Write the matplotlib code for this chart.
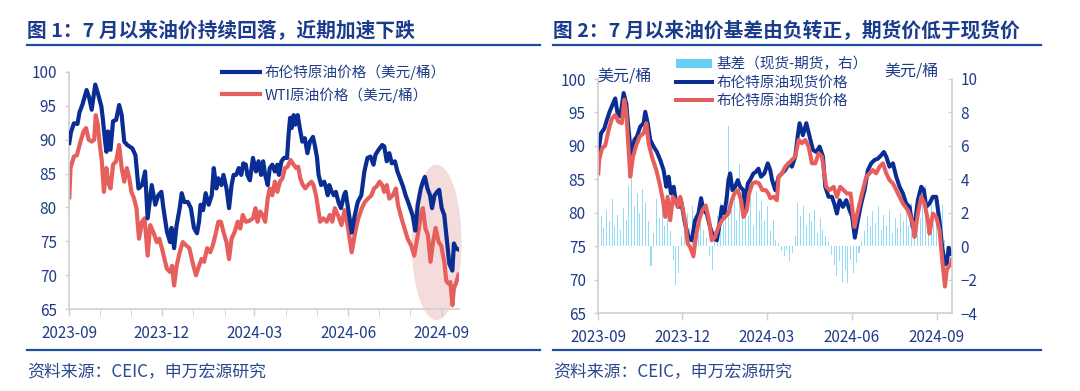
import matplotlib
matplotlib.use("Agg")
import matplotlib.pyplot as plt
import matplotlib.dates as mdates
from matplotlib.patches import Ellipse, Patch
from matplotlib.lines import Line2D
import pandas as pd

plt.rcParams["font.family"] = ["Noto Sans CJK SC", "DejaVu Sans"]

START = pd.Timestamp("2023-09-01")

# ---- 图1: 布伦特 / WTI（美元/桶），横轴为距 2023-09-01 的天数 ----
brent_day = [0, 1.5, 4.5, 8, 10, 13, 17, 19.5, 22, 25.5, 28.5, 31.5, 33, 35, 36.5, 38, 40.5, 43, 46, 49,
             51.5, 54, 57, 62, 65, 68, 71.5, 74.5, 77, 81, 84.5, 87.5, 90.5, 92.5, 96, 99, 100.5, 103, 105.5,
             108.5, 110.5, 113, 116.5, 119.5, 122.5, 125.5, 127.5, 129, 131.5, 134, 137, 140, 142, 144.5,
             146.5, 149.5, 151.5, 154.5, 157, 159.5, 161.5, 164, 166.5, 169, 171, 173.5, 175, 177.5, 180.5,
             183.5, 186, 188.5, 190.5, 192.5, 195, 197, 199.5, 202, 204.5, 206, 208.5, 211, 214, 215.5, 217,
             218.5, 220.5, 222, 224.5, 226.5, 229, 231.5, 234, 236.5, 239.5, 241.5, 243.5, 245, 247.5, 250.5,
             252.5, 254, 255.5, 258, 260, 262, 264.5, 267, 270, 271.5, 274, 277.5, 280.5, 283.5, 287, 290,
             293, 296, 299, 301, 304, 307.5, 309.5, 312, 314.5, 317, 320, 322.5, 325, 328, 330.5, 333, 335,
             337.5, 340, 342.5, 345.5, 347.5, 349.5, 352, 354.5, 356.5, 359, 361.5, 363.5, 366, 368.5, 371,
             373.5, 376.5, 378, 380, 382.5]
brent = [89.5, 91.0, 92.4, 92.3, 94.0, 95.2, 97.3, 96.2, 94.4, 98.1, 96.6, 94.9, 93.0, 90.0, 88.2, 91.2,
         88.5, 92.7, 92.9, 95.1, 93.6, 89.7, 89.2, 88.7, 87.7, 82.8, 83.3, 85.3, 78.4, 83.3, 80.4, 81.8, 82.3,
         79.9, 76.4, 74.9, 77.0, 74.0, 77.4, 79.9, 82.1, 80.8, 80.8, 79.9, 77.0, 76.2, 77.9, 80.4, 79.6, 82.1,
         80.4, 81.8, 85.8, 82.8, 84.3, 83.3, 84.8, 82.8, 79.9, 83.3, 84.8, 84.8, 85.8, 84.8, 86.5, 86.3, 84.8,
         84.0, 87.3, 85.3, 86.8, 84.8, 86.8, 84.8, 83.3, 85.8, 86.3, 85.3, 86.3, 84.8, 86.8, 87.3, 87.3, 90.7,
         93.2, 91.7, 93.6, 92.2, 93.6, 91.7, 89.7, 90.2, 88.0, 89.7, 90.4, 89.0, 87.3, 84.8, 83.3, 83.8, 82.8,
         81.8, 83.3, 82.3, 81.8, 82.3, 80.8, 79.9, 81.8, 82.3, 79.9, 76.3, 78.8, 80.8, 81.8, 85.3, 87.3, 87.5,
         86.3, 87.8, 88.5, 89.2, 89.0, 86.8, 88.0, 86.5, 86.8, 85.3, 84.3, 83.1, 81.8, 80.8, 79.9, 78.8, 76.6,
         80.4, 82.8, 83.8, 84.5, 82.8, 81.8, 79.9, 81.8, 82.3, 82.6, 79.9, 78.9, 75.3, 71.7, 70.7, 74.7, 74.0,
         73.8]

wti_day = [0, 1.2, 4.5, 7.5, 11, 14, 16.5, 19, 22, 24.5, 26, 28, 30, 32, 34, 36.5, 38, 40.5, 43, 46, 49,
           51.5, 54, 56.5, 59, 61, 63.5, 66, 68.5, 71.5, 74, 77, 79.5, 82.5, 86, 88.5, 91, 95.8, 99, 101, 103,
           105.5, 108.5, 111.5, 115, 118, 121, 124.5, 127.5, 130, 132.5, 135.5, 138.5, 141, 143.5, 146.5, 149,
           151.5, 154.5, 157, 159.5, 162.5, 165.5, 168, 170.5, 173.5, 176.5, 180.5, 183, 185, 187.5, 190,
           192.5, 195, 197, 199.5, 202, 204.5, 207, 209.5, 212, 214.5, 217.5, 220.5, 223, 225, 227, 229.5,
           232, 234.5, 238, 240, 242.5, 244.5, 246.5, 249.5, 253, 256, 258.5, 261, 264.5, 267.5, 270.5, 274,
           277.5, 281, 284, 287.5, 290.5, 293.5, 297, 299.5, 302, 305, 307.5, 309.5, 312, 314.5, 318, 321,
           323, 326.5, 329.5, 332.5, 336, 339, 342.5, 345.5, 347.5, 350, 352.5, 355, 357.5, 360, 363, 365.5,
           368.5, 370.5, 372.5, 374.5, 376.5, 378, 380, 382.5]
wti = [81.5, 85.8, 87.5, 87.7, 89.7, 91.2, 91.7, 90.0, 89.7, 90.0, 93.6, 92.2, 89.2, 86.8, 82.3, 85.8, 83.8,
       82.8, 86.3, 86.8, 89.2, 85.8, 83.8, 85.8, 84.3, 82.3, 81.4, 79.9, 75.4, 77.9, 78.4, 72.9, 77.4, 76.4,
       74.9, 75.4, 74.0, 71.0, 70.5, 71.4, 68.5, 71.4, 73.4, 74.9, 74.4, 74.0, 72.0, 70.0, 71.4, 72.4, 72.0,
       74.0, 73.4, 74.4, 75.9, 77.9, 77.9, 76.4, 74.9, 72.4, 75.4, 76.4, 77.9, 76.9, 78.9, 77.9, 78.0, 78.4,
       79.9, 77.9, 79.4, 78.9, 77.9, 81.3, 82.8, 81.8, 83.8, 82.3, 83.8, 84.3, 85.8, 86.0, 87.0, 86.3, 85.8,
       86.0, 84.3, 83.3, 82.8, 83.3, 83.8, 83.3, 81.8, 79.9, 77.9, 78.4, 77.9, 78.9, 77.9, 79.9, 78.7, 77.4,
       79.6, 76.9, 73.4, 76.4, 78.4, 79.9, 80.8, 81.3, 81.8, 82.8, 83.1, 83.8, 83.3, 82.3, 83.3, 81.3, 81.8,
       82.8, 80.4, 78.4, 76.9, 75.4, 74.4, 72.9, 75.9, 78.9, 79.9, 76.9, 75.9, 72.0, 74.9, 77.0, 74.9, 74.4,
       72.0, 69.2, 68.8, 69.0, 65.6, 68.2, 68.8, 70.1]

# ---- 图2: 布伦特现货 / 期货（美元/桶，左轴）与基差（右轴）----
spot_day = [0, 3, 6.5, 9.3, 12.2, 15.8, 18.3, 20.8, 23.8, 27.4, 30.3, 32.1, 34.6, 36.4, 39, 41.8, 45.4, 49,
            50.8, 53.4, 56.2, 59.8, 63.4, 67, 70.6, 73.5, 76, 78.6, 81.5, 84.3, 86.9, 89.4, 93.8, 97.5, 101,
            104.7, 108.3, 111.2, 113.7, 117.3, 120.9, 124.5, 128.2, 130.7, 133.6, 136.5, 139, 140.8, 142.6,
            145.1, 148, 150.9, 153.4, 157, 158.8, 161.7, 164.2, 167.8, 170.3, 173.2, 176, 179.6, 183.3, 186,
            188, 191.4, 195, 198.6, 202.2, 205.8, 209.4, 213, 215.6, 217.7, 221.3, 225, 228.6, 232.2, 235.8,
            239.4, 243, 245.5, 249.1, 252.7, 255.2, 258.1, 261, 264.6, 268.2, 271.8, 274.5, 277.5, 280.8,
            284.4, 288, 291.6, 295.2, 298.8, 302.4, 306, 308.9, 311.5, 315, 318.7, 322.3, 325.9, 329.5, 333,
            336.7, 340, 342.5, 345.7, 349.3, 352.2, 354.7, 358.3, 361.9, 365.5, 369, 372, 375, 377, 379, 381,
            382.5]
spot = [89.0, 91.9, 92.6, 93.9, 95.1, 96.3, 97.1, 94.9, 94.4, 97.9, 96.3, 93.4, 89.9, 87.9, 90.9, 91.4, 92.9,
        93.4, 95.1, 93.4, 90.9, 89.9, 89.1, 87.9, 86.4, 83.9, 85.4, 82.9, 83.9, 81.4, 80.9, 81.9, 78.4, 76.4,
        75.9, 78.9, 79.9, 82.2, 80.4, 79.9, 77.9, 76.4, 75.9, 77.9, 80.9, 79.9, 82.4, 84.9, 85.9, 83.4, 83.9,
        84.9, 83.9, 83.4, 80.4, 84.4, 84.9, 85.9, 86.1, 86.6, 85.4, 85.9, 87.4, 86.4, 84.9, 83.4, 85.4, 85.9,
        86.4, 87.4, 86.9, 88.4, 91.4, 93.4, 91.6, 93.4, 91.4, 89.4, 89.1, 89.9, 88.4, 83.9, 82.4, 82.4, 81.4,
        79.9, 81.9, 80.9, 81.9, 80.4, 79.5, 76.3, 78.9, 81.4, 83.4, 86.4, 87.4, 87.9, 88.1, 88.6, 89.1, 88.4,
        86.9, 87.4, 85.4, 83.9, 82.9, 81.4, 80.9, 77.9, 78.5, 81.9, 83.9, 83.4, 80.9, 81.4, 82.4, 82.4, 78.9,
        74.9, 72.3, 72.5, 74.8, 73.9, 73.8]

fut_day = [0, 1, 4, 7.6, 11.2, 14.7, 18.3, 21.9, 25.5, 28.1, 30.3, 32.1, 34.6, 37.5, 41.1, 44.7, 49, 51.9,
           54.4, 58, 62.7, 66.3, 69.9, 72.4, 75, 77.8, 80.7, 83.3, 85.8, 88.7, 90.2, 93.8, 96.7, 99.3, 102.9,
           105.5, 109, 112.6, 116.2, 119.8, 122.7, 126.3, 129.9, 133.6, 137.2, 140.8, 144.4, 147.3, 150.9,
           154.5, 157, 160.6, 163.1, 166.7, 170.3, 173.9, 177.5, 181.1, 184, 186, 189.6, 193.2, 195, 198.6,
           202.2, 205.8, 209.4, 213, 216.7, 220.3, 223.9, 227.5, 231.1, 234.7, 238.3, 241.9, 244.4, 246.6,
           250.2, 254.5, 258.1, 261.7, 265.3, 268.9, 272.9, 275.4, 277.2, 280.1, 284.4, 289.8, 293.4, 297,
           300.6, 304.2, 307.9, 311.5, 315, 318.7, 322.3, 325.9, 329.5, 334.9, 340.3, 342, 345.7, 349.3, 352.9,
           356.5, 358.3, 361.9, 365.5, 369.1, 372, 375, 377, 379, 381, 382.5]
fut = [85.9, 88.0, 89.6, 90.1, 92.4, 94.1, 94.6, 93.6, 93.4, 96.9, 94.9, 90.9, 85.4, 88.4, 90.1, 91.4, 91.9,
       93.4, 90.4, 88.4, 86.4, 84.4, 81.9, 79.4, 82.4, 78.9, 82.4, 81.9, 80.9, 82.4, 81.4, 78.9, 75.4, 74.9,
       73.5, 76.4, 78.9, 80.4, 81.1, 78.9, 75.9, 76.4, 77.9, 78.9, 79.4, 79.9, 81.9, 82.9, 83.4, 81.9, 79.4,
       80.4, 82.9, 84.4, 84.6, 84.4, 83.4, 83.4, 82.9, 82.2, 82.4, 81.9, 85.4, 85.9, 86.9, 87.4, 87.9, 88.4,
       90.9, 90.4, 90.9, 89.9, 87.4, 87.4, 88.9, 88.4, 85.9, 83.9, 83.4, 83.9, 82.4, 83.9, 83.4, 82.9, 82.9,
       79.9, 77.9, 79.9, 82.4, 85.4, 85.9, 86.4, 85.9, 86.9, 87.4, 85.9, 84.9, 84.4, 83.4, 82.4, 81.4, 80.4,
       78.4, 76.4, 79.9, 82.4, 81.4, 78.9, 76.9, 79.9, 79.4, 77.4, 73.0, 69.0, 71.5, 72.0, 72.2, 73.0]

basis_day = list(range(0, 384, 3))
basis = [1.4, 1.8, 1.1, 2.2, 1.5, 2.8, 1.2, 1.9, 1.0, 2.3, 1.6, 3.6, 4.0, 2.4, 3.2, 2.0, 3.4, 2.6, 1.5, -1.2,
         0.8, 2.8, 1.7, 2.5, 1.2, 1.8, 0.9, -0.8, -2.3, -1.6, 0.6, 1.5, 2.0, 1.1, 2.4, 1.3, 0.7, 1.9, 1.0, 0.5,
         -0.6, -1.4, 0.9, 1.8, 2.6, 1.4, 3.0, 7.2, 2.2, 3.4, 1.6, 4.9, 2.5, 3.6, 1.8, 2.9, 1.2, 3.3, 2.1, 2.7,
         1.5, 2.4, 0.9, 1.6, 0.4, 0.2, -0.3, -0.6, -0.2, -0.9, -0.4, 0.6, 2.6, 1.8, 2.4, 1.2, 2.0, 1.5, 2.2,
         0.8, 1.7, 1.0, 0.6, 0.3, -0.5, -1.1, -1.8, -0.9, -2.1, -1.4, -2.2, -0.8, -1.6, -1.0, -0.4, 0.3, 0.9,
         1.8, 1.2, 2.1, 1.4, 2.4, 1.0, 1.9, 1.3, 2.2, 0.8, 1.7, 1.1, 2.0, 1.5, 2.3, 1.2, 2.6, 1.4, 2.2, 1.7,
         2.8, 3.6, 1.6, 2.5, 1.3, 2.1, 0.8, 2.5, 0.4, -0.5, -0.3]

BLUE = "#0a2d94"
RED = "#e65f5d"
BAR = "#94dcf6"
TXT = "#1f3c88"
GRID = "#d0d0d0"


def to_dates(days):
    return START + pd.to_timedelta(days, unit="D")


def style_axis(ax, labelsize=11):
    for s in ["top", "right"]:
        ax.spines[s].set_visible(False)
    for s in ["left", "bottom"]:
        ax.spines[s].set_color(GRID)
        ax.spines[s].set_linewidth(1.2)
    ax.tick_params(colors=GRID, labelcolor=TXT, labelsize=labelsize, length=4, width=1)
    ax.xaxis.set_major_formatter(mdates.DateFormatter("%Y-%m"))


fig = plt.figure(figsize=(10.8, 3.91), dpi=100)

# titles, rules and source lines
for x0, x1, title in [(27, 540, "图 1：7 月以来油价持续回落，近期加速下跌"),
                      (553, 1041, "图 2：7 月以来油价基差由负转正，期货价低于现货价")]:
    fig.text(x0 / 1080, 1 - 31 / 391, title, fontsize=14.2, fontweight="bold", color="#1b3c8c", va="center")
    fig.add_artist(Line2D([x0 / 1080, x1 / 1080], [1 - 45 / 391] * 2, color="#1f4ea0", lw=1.6))
    fig.add_artist(Line2D([x0 / 1080, x1 / 1080], [1 - 350 / 391] * 2, color="#1f4ea0", lw=1.6))
    fig.text(x0 / 1080, 1 - 372 / 391, "资料来源：CEIC，申万宏源研究", fontsize=12.2, color="#2a4a8c", va="center")

# ---------- 图1 ----------
ax1 = fig.add_axes([69.3 / 1080, 1 - 309.3 / 391, (459 - 69.3) / 1080, (309.3 - 71.7) / 391])
ax1.add_patch(Ellipse((mdates.date2num(to_dates(361)), 74.85), 49, 22.9, facecolor="#f5dcdc",
                      edgecolor="none", zorder=0, clip_on=False))
ax1.plot(to_dates(brent_day), brent, color=BLUE, lw=3.0, label="布伦特原油价格（美元/桶）", zorder=3)
ax1.plot(to_dates(wti_day), wti, color=RED, lw=3.0, label="WTI原油价格（美元/桶）", zorder=2)
ax1.set_ylim(65, 100)
ax1.set_yticks(range(65, 101, 5))
ax1.set_xlim(to_dates(0), to_dates(383))
ax1.set_xticks(pd.to_datetime(["2023-09-01", "2023-12-01", "2024-03-01", "2024-06-01", "2024-09-01"]))
ax1.xaxis.set_minor_locator(mdates.MonthLocator())
style_axis(ax1)
ax1.tick_params(axis="x", which="both", length=5, color=GRID, pad=6)
ax1.tick_params(axis="y", length=3, pad=6)
ax1.legend(loc="upper left", bbox_to_anchor=(222 / 1080, 1 - 65 / 391), bbox_transform=fig.transFigure,
           frameon=False, fontsize=10.5, labelcolor=TXT, handlelength=2.6, handletextpad=0.3,
           labelspacing=0.45, borderpad=0, borderaxespad=0)

# ---------- 图2 ----------
ax2 = fig.add_axes([598.3 / 1080, 1 - 313.3 / 391, (952 - 598.3) / 1080, (313.3 - 79) / 391])
ax2b = ax2.twinx()
ax2b.bar(to_dates(basis_day), basis, width=1.1, color=BAR, linewidth=0)
ax2b.set_ylim(-4, 10)
ax2b.set_yticks(range(-4, 11, 2))
ax2.set_zorder(ax2b.get_zorder() + 1)
ax2.patch.set_visible(False)
ax2.plot(to_dates(spot_day), spot, color=BLUE, lw=2.9)
ax2.plot(to_dates(fut_day), fut, color=RED, lw=2.9)
ax2.set_ylim(65, 100)
ax2.set_yticks(range(65, 101, 5))
ax2.set_xlim(to_dates(0), to_dates(382.6))
ax2.set_xticks(pd.to_datetime(["2023-09-01", "2023-12-01", "2024-03-01", "2024-06-01", "2024-09-01"]))
style_axis(ax2)
ax2.spines["right"].set_visible(True)
ax2.spines["right"].set_color(GRID)
ax2.spines["right"].set_linewidth(1.2)
ax2.tick_params(axis="x", length=5, pad=6)
ax2.tick_params(axis="y", length=3, pad=6)
for s in ax2b.spines.values():
    s.set_visible(False)
ax2b.tick_params(axis="y", colors=GRID, labelcolor=TXT, labelsize=11, length=3, pad=6, direction="in")

fig.text(624 / 1080, 1 - 76 / 391, "美元/桶", fontsize=11.5, color=TXT, ha="center", va="center")
fig.text(911 / 1080, 1 - 71 / 391, "美元/桶", fontsize=11.5, color=TXT, ha="center", va="center")

handles = [Patch(facecolor="#66cff5", edgecolor="none"),
           Line2D([], [], color=BLUE, lw=2.9),
           Line2D([], [], color=RED, lw=2.9)]
fig.legend(handles, ["基差（现货-期货，右）", "布伦特原油现货价格", "布伦特原油期货价格"],
           loc="upper left", bbox_to_anchor=(676 / 1080, 1 - 57 / 391), frameon=False, fontsize=10.5,
           labelcolor=TXT, handlelength=2.5, handletextpad=0.3, labelspacing=0.28, borderpad=0,
           borderaxespad=0, handleheight=0.55)

fig.savefig("out.png", dpi=100)
